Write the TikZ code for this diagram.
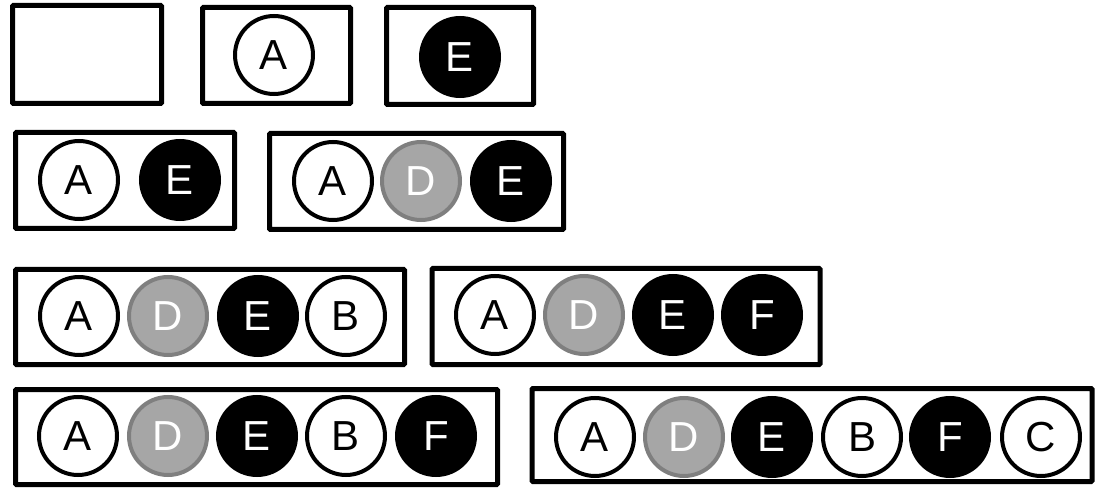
\documentclass[tikz,border=0pt]{standalone}
\usepackage{fontspec}
\setmainfont{Liberation Sans}
\definecolor{dgray}{HTML}{A6A6A6}
\definecolor{dstroke}{HTML}{7F7F7F}
\begin{document}
\begin{tikzpicture}[x=1pt,y=-1pt,
  frame/.style={draw=black,line width=5pt,rounded corners=1pt,inner sep=0pt},
  ball/.style={circle,minimum size=78pt,inner sep=0pt,line width=4pt,
    font=\fontsize{42}{50}\selectfont},
  wball/.style={ball,draw=black,fill=white,text=black},
  gball/.style={ball,draw=dstroke,fill=dgray,text=white},
  bball/.style={ball,draw=black,fill=black,text=white}]
\useasboundingbox (0,0) rectangle (1096,489);
% boxes
\node[frame,minimum width=149pt,minimum height=98pt] (b1) at (87,54.5) {};
\node[frame,minimum width=148pt,minimum height=96pt] (b2) at (276.5,55.5) {};
\node[frame,minimum width=147pt,minimum height=97pt] (b3) at (460,56) {};
\node[frame,minimum width=219pt,minimum height=96pt] (b4) at (125,180.5) {};
\node[frame,minimum width=294pt,minimum height=96pt] (b5) at (416.5,181.5) {};
\node[frame,minimum width=389pt,minimum height=95pt] (b6) at (210,317) {};
\node[frame,minimum width=388pt,minimum height=96pt] (b7) at (626,316.5) {};
\node[frame,minimum width=482pt,minimum height=95pt] (b8) at (256.5,437) {};
\node[frame,minimum width=560pt,minimum height=93pt] (b9) at (812,435) {};
% row 1
\node[wball] (a2) at (274,55) {A};
\node[bball] (e3) at (460,57) {E};
% row 2
\node[wball] (a4) at (79,180) {A};
\node[bball] (e4) at (180,180) {E};
\node[wball] (a5) at (333,181) {A};
\node[gball] (d5) at (421,181) {D};
\node[bball] (e5) at (511,181) {E};
% row 3
\node[wball] (a6) at (79,316) {A};
\node[gball] (d6) at (168,316) {D};
\node[bball] (e6) at (258,316) {E};
\node[wball] (b6c) at (346,316) {B};
\node[wball] (a7) at (495,315) {A};
\node[gball] (d7) at (584,315) {D};
\node[bball] (e7) at (673,315) {E};
\node[bball] (f7) at (762,315) {F};
% row 4
\node[wball] (a8) at (78,436) {A};
\node[gball] (d8) at (168,436) {D};
\node[bball] (e8) at (257,436) {E};
\node[wball] (b8c) at (346,436) {B};
\node[bball] (f8) at (436,436) {F};
\node[wball] (a9) at (595,437) {A};
\node[gball] (d9) at (684,437) {D};
\node[bball] (e9) at (772,437) {E};
\node[wball] (b9c) at (862,437) {B};
\node[bball] (f9) at (950,437) {F};
\node[wball] (c9) at (1041,437) {C};
\end{tikzpicture}
\end{document}
